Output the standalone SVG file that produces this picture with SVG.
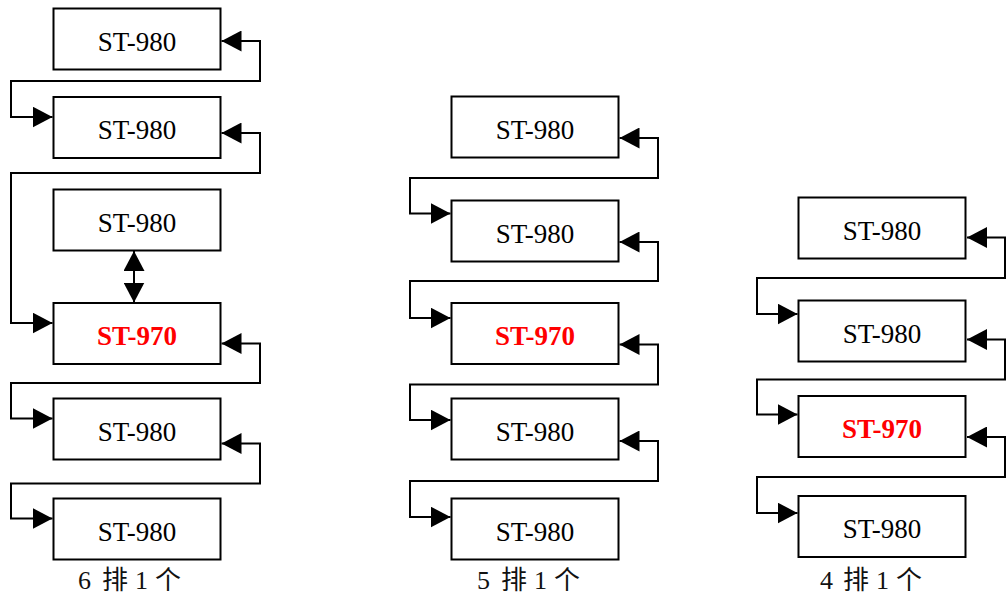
<svg xmlns="http://www.w3.org/2000/svg" width="1008" height="596" viewBox="0 0 1008 596">
<style>
.box{fill:#fff;stroke:#000;stroke-width:2}
.t{font-family:"Liberation Serif","Times New Roman",serif;font-size:27px;text-anchor:middle;fill:#000}
.r{fill:#ff0000;font-weight:bold}
.c{fill:none;stroke:#000;stroke-width:2;marker-start:url(#ah);marker-end:url(#ah)}
.lb{font-family:"Liberation Serif","Noto Sans CJK SC",serif;font-size:26px;fill:#111}
</style>
<defs>
<marker id="ah" viewBox="0 0 20 21" refX="20" refY="10.5" markerWidth="20" markerHeight="21" markerUnits="userSpaceOnUse" orient="auto-start-reverse">
<path d="M0,0 L20,10.5 L0,21 Z" fill="#000"/>
</marker>
</defs>
<rect width="1008" height="596" fill="#fff"/>
<g id="connectors">
<path class="c" d="M221.5 41 H260 V81 H11 V117 H52.5"/>
<path class="c" d="M221.5 133 H260 V173 H11 V323 H52.5"/>
<path class="c" d="M134 251 V302.5"/>
<path class="c" d="M221.5 343.5 H260 V383 H11 V418.5 H52.5"/>
<path class="c" d="M221.5 443.5 H260 V483.5 H11 V518.5 H52.5"/>
<path class="c" d="M619.5 138 H658 V178 H410 V213.5 H450.5"/>
<path class="c" d="M619.5 242 H658 V281 H410 V318 H450.5"/>
<path class="c" d="M619.5 344.5 H658 V384.5 H410 V420 H450.5"/>
<path class="c" d="M619.5 441 H658 V481 H410 V517 H450.5"/>
<path class="c" d="M967 237.5 H1005 V278 H757 V314 H797.5"/>
<path class="c" d="M967 339.5 H1005 V379.5 H757 V414.5 H797.5"/>
<path class="c" d="M967 437 H1005 V477 H757 V513 H797.5"/>
</g>
<g id="a1"><rect class="box" x="53.5" y="8.5" width="167" height="61"/><text class="t" x="137" y="50.5">ST-980</text></g>
<g id="a2"><rect class="box" x="53.5" y="97" width="167" height="61"/><text class="t" x="137" y="139">ST-980</text></g>
<g id="a3"><rect class="box" x="53.5" y="189.5" width="167" height="61"/><text class="t" x="137" y="231.5">ST-980</text></g>
<g id="a4"><rect class="box" x="53.5" y="303" width="167" height="61"/><text class="t r" x="137" y="345">ST-970</text></g>
<g id="a5"><rect class="box" x="53.5" y="398.5" width="167" height="61"/><text class="t" x="137" y="440.5">ST-980</text></g>
<g id="a6"><rect class="box" x="53.5" y="498.5" width="167" height="61"/><text class="t" x="137" y="540.5">ST-980</text></g>
<g id="b1"><rect class="box" x="451.5" y="96.5" width="167" height="61"/><text class="t" x="535" y="138.5">ST-980</text></g>
<g id="b2"><rect class="box" x="451.5" y="200.5" width="167" height="61"/><text class="t" x="535" y="242.5">ST-980</text></g>
<g id="b3"><rect class="box" x="451.5" y="303" width="167" height="61"/><text class="t r" x="535" y="345">ST-970</text></g>
<g id="b4"><rect class="box" x="451.5" y="398.5" width="167" height="61"/><text class="t" x="535" y="440.5">ST-980</text></g>
<g id="b5"><rect class="box" x="451.5" y="498.5" width="167" height="61"/><text class="t" x="535" y="540.5">ST-980</text></g>
<g id="c1"><rect class="box" x="798.5" y="197.5" width="167" height="61"/><text class="t" x="882" y="239.5">ST-980</text></g>
<g id="c2"><rect class="box" x="798.5" y="300.5" width="167" height="61"/><text class="t" x="882" y="342.5">ST-980</text></g>
<g id="c3"><rect class="box" x="798.5" y="396" width="167" height="61"/><text class="t r" x="882" y="438">ST-970</text></g>
<g id="c4"><rect class="box" x="798.5" y="496" width="167" height="61"/><text class="t" x="882" y="538">ST-980</text></g>
<g id="labels">
<text class="lb" x="78 91 102 128 135 149 155" y="589">6 排 1 个</text>
<text class="lb" x="477 490 501 527 534 548 554" y="589">5 排 1 个</text>
<text class="lb" x="820 833 843 869 876 890 896" y="589">4 排 1 个</text>
</g>
</svg>
